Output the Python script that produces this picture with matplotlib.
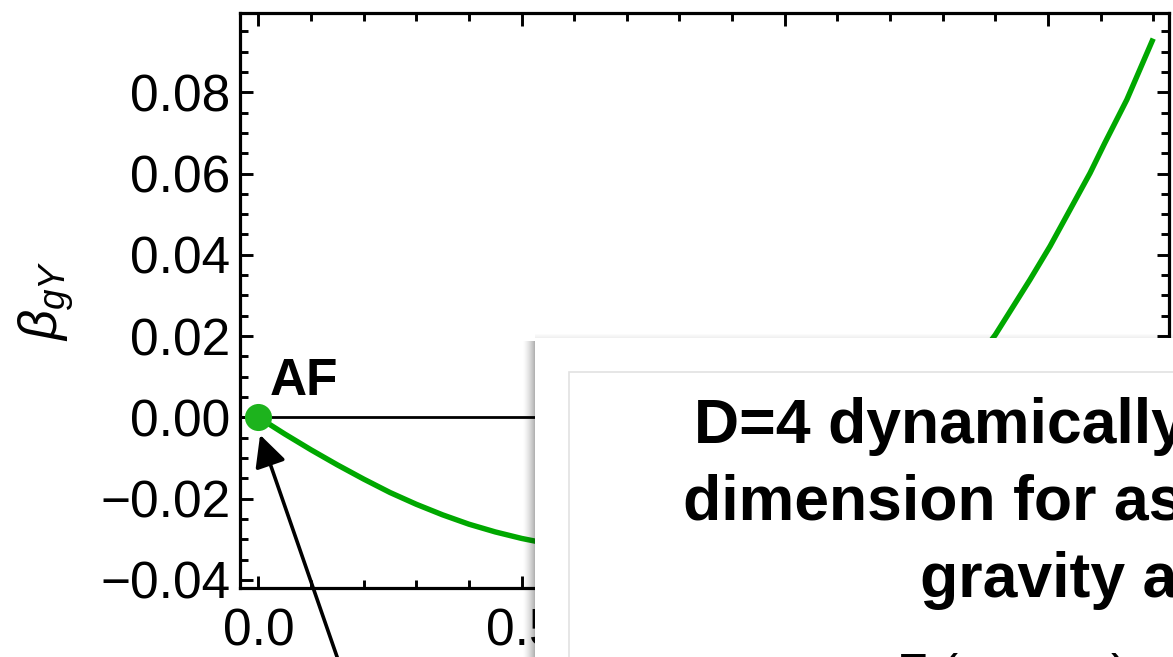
import numpy as np
import matplotlib
matplotlib.use("Agg")
import matplotlib.pyplot as plt
from matplotlib.patches import Rectangle

plt.rcParams['font.family'] = ['Liberation Sans', 'DejaVu Sans']
plt.rcParams['mathtext.fontset'] = 'custom'
plt.rcParams['mathtext.it'] = 'Liberation Sans:italic'
plt.rcParams['mathtext.rm'] = 'Liberation Sans'

# curve (middle part is hidden under the card, estimated)
x_vals = [0.00, 0.05, 0.10, 0.15, 0.20, 0.25, 0.30, 0.35, 0.40, 0.45, 0.50,
          0.55, 0.60, 0.70, 0.80, 0.90, 1.00, 1.10, 1.20, 1.30, 1.40, 1.434,
          1.466, 1.504, 1.542, 1.58, 1.608, 1.65, 1.70]
beta_vals = [0.0000, -0.0041, -0.0080, -0.0117, -0.0152, -0.0185, -0.0214,
             -0.0240, -0.0263, -0.0282, -0.0298, -0.0311, -0.0320, -0.0330,
             -0.0328, -0.0312, -0.0280, -0.0225, -0.0120, 0.0030, 0.0203,
             0.0273, 0.0339, 0.0421, 0.0511, 0.0601, 0.0675, 0.0782, 0.0932]
fp_x = [0.0]
fp_y = [0.0]
fp_label = "AF"
yticks = [-0.04, -0.02, 0.00, 0.02, 0.04, 0.06, 0.08]
xticks = [0.0, 0.5, 1.0, 1.5]
card_lines = ["D=4 dynamically", "dimension for as", "gravity a"]

W, H = 1173, 657
fig = plt.figure(figsize=(W / 100, H / 100), dpi=100)
ax = fig.add_axes([240 / W, 1 - 588 / H, (1169 - 240) / W, (588 - 13) / H])

ax.axhline(0, color="black", lw=2.0, zorder=1)
ax.plot(x_vals, beta_vals, color="#00a800", lw=3.9, zorder=2, solid_capstyle="butt")
ax.plot(fp_x, fp_y, "o", color="#1db31d", ms=19.5, mew=0, zorder=3, clip_on=False)
ax.text(0.022, 0.0056, fp_label, fontsize=37, fontweight="bold", ha="left", va="baseline")

ax.set_xlim(-0.035, 1.73)
ax.set_ylim(-0.042, 0.0995)
ax.set_xticks(xticks)
ax.set_yticks(yticks)
ax.set_xticklabels(["%.1f" % v for v in xticks])
ax.set_yticklabels([("%.2f" % v).replace("-", "\u2212") for v in yticks])
ax.xaxis.set_minor_locator(matplotlib.ticker.MultipleLocator(0.1))
ax.yaxis.set_minor_locator(matplotlib.ticker.MultipleLocator(0.005))
ax.tick_params(which="both", direction="in", top=True, right=True, width=2.1, labelsize=37)
ax.tick_params(which="major", length=9)
ax.tick_params(which="minor", length=5.5)
ax.tick_params(axis="y", pad=7)
ax.tick_params(axis="x", pad=14)
for s in ax.spines.values():
    s.set_linewidth(2.3)

ax.set_ylabel(r"$\beta_{gY}$", fontsize=38)
ax.yaxis.set_label_coords(-0.177, 0.5)

ax.annotate("", xy=(0.0032, -0.0043), xycoords="data",
            xytext=(352, -43), textcoords="figure pixels",
            arrowprops=dict(arrowstyle="-|>,head_length=0.6,head_width=0.3",
                            mutation_scale=32, lw=2.6, color="black",
                            shrinkA=0, shrinkB=0),
            annotation_clip=False)

# overlay card with soft drop shadow
def px_rect(x0, y0, x1, y1, **kw):
    r = Rectangle((x0 / W, 1 - y1 / H), (x1 - x0) / W, (y1 - y0) / H,
                  transform=fig.transFigure, **kw)
    fig.add_artist(r)
    return r

for i in range(12):
    a = 0.30 * (1 - i / 12) ** 1.5
    px_rect(535 - i - 1, 338 + 3, 535 - i, H + 5, facecolor="black", alpha=a, lw=0, zorder=5)
for i in range(4):
    a = 0.06 * (1 - i / 4)
    px_rect(535, 338 - i - 1, W + 5, 338 - i, facecolor="black", alpha=a, lw=0, zorder=5)
px_rect(535, 338, W + 5, H + 5, facecolor="white", lw=0, zorder=6)
px_rect(569, 372, W + 20, H + 20, facecolor="none", edgecolor="#e2e2e2", lw=1.2, zorder=7)

card_x = [694, 683, 920]
card_base = [443, 520, 597]
for t, x0, yb in zip(card_lines, card_x, card_base):
    fig.text(x0 / W, 1 - yb / H, t, fontsize=45, fontweight="bold",
             ha="left", va="baseline", zorder=8)
fig.text(897 / W, 1 - 689 / H, "F (", fontsize=36, ha="left", va="baseline", zorder=8)
fig.text(1111 / W, 1 - 689 / H, ")", fontsize=36, ha="left", va="baseline", zorder=8)

fig.savefig("out.png", dpi=100)
